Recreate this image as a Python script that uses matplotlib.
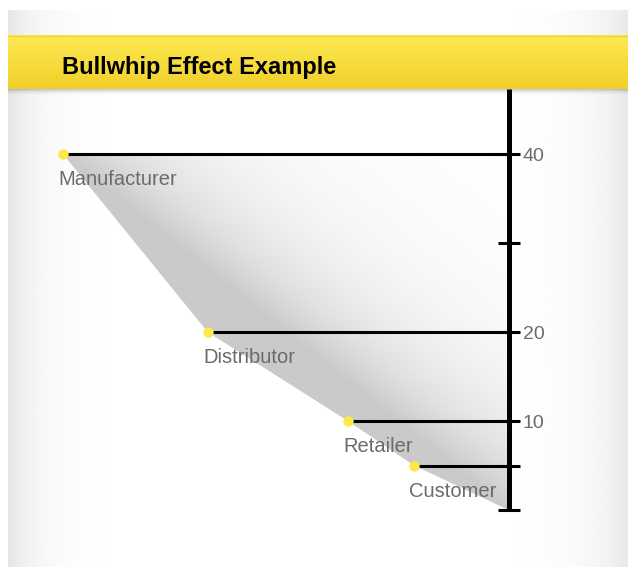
import numpy as np
import matplotlib.pyplot as plt
from matplotlib.patches import Polygon

plt.rcParams["font.family"] = ["Liberation Sans", "DejaVu Sans"]

# Data
stages = ["Manufacturer", "Distributor", "Retailer", "Customer"]
order_size = [40, 20, 10, 5]
stage_x = [8.6, 32.0, 54.7, 65.4]   # horizontal placement, % of width
axis_x = 80.7
yticks = [0, 5, 10, 20, 30, 40]
ytick_labels = ["", "", "10", "20", "", "40"]

W, H = 628, 567
fig = plt.figure(figsize=(W / 100, H / 100), dpi=100)
fig.patch.set_facecolor("white")

# background layer (pixel coordinates)
bg = fig.add_axes([0, 0, 1, 1], zorder=0)
bg.set_xlim(0, W)
bg.set_ylim(H, 0)
bg.axis("off")

xs = np.linspace(8, W, 600)
prof = 1 - 0.10 * np.exp(-(xs - 8) / 30) - 0.09 * np.exp(-(W - xs) / 35)
bg.imshow(np.tile(prof, (2, 1)), cmap="gray", vmin=0, vmax=1,
          extent=(8, W, H, 10), aspect="auto", interpolation="bilinear")

# yellow header band
top = np.array([253, 234, 82]) / 255
bot = np.array([240, 207, 42]) / 255
t = np.linspace(0, 1, 60)[:, None, None]
band = top * (1 - t) + bot * t
bg.imshow(band, extent=(8, W, 89, 35), aspect="auto", interpolation="bilinear")
bg.plot([8, W], [35.5, 35.5], color="#f2d43a", lw=1)

# soft shadow under the band
sh = np.zeros((20, 1, 4))
sh[..., 3] = (0.22 * np.linspace(1, 0, 20) ** 2)[:, None]
bg.imshow(sh, extent=(8, W, 96, 89), aspect="auto", interpolation="bilinear")

bg.text(62, 67.5, "Bullwhip Effect Example", fontsize=17, fontweight="bold",
        va="center", ha="left", color="black")

# main chart
ax = fig.add_axes([10 / W, (H - 545) / H, (W - 10) / W, (545 - 89) / H], zorder=1)
ax.patch.set_alpha(0)
ax.set_xlim(0, 100)
ax.set_ylim(-3.93, 47.33)
for s in ["top", "bottom", "left"]:
    ax.spines[s].set_visible(False)
ax.spines["right"].set_position(("data", axis_x))
ax.spines["right"].set_bounds(0, 47.33)
ax.spines["right"].set_linewidth(3.6)
ax.spines["right"].set_capstyle("butt")
ax.yaxis.tick_right()
ax.set_yticks(yticks, ytick_labels)
ax.set_xticks([])
ax.tick_params(axis="y", direction="inout", length=16, width=2.2,
               color="black", labelcolor="#6b6b6b", labelsize=14, pad=2)

# gradient wedge
verts = list(zip(stage_x, order_size)) + [(axis_x, 0), (axis_x, order_size[0])]
poly = Polygon(verts, closed=True, facecolor="none", edgecolor="none")
ax.add_patch(poly)

gx = np.linspace(stage_x[0], axis_x, 300)
gy = np.linspace(0, order_size[0], 300)
GX, GY = np.meshgrid(gx, gy)
pts = ax.transData.transform(np.column_stack([GX.ravel(), GY.ravel()]))
p0 = ax.transData.transform((stage_x[0], order_size[0]))
p1 = ax.transData.transform((axis_x, 0))
d = p1 - p0
n = np.array([-d[1], d[0]]) / np.hypot(*d)
dist = np.clip((pts - p0) @ n, 0, None).reshape(GX.shape)
shade = 1 - 0.21 * np.exp(-dist / 70)
im = ax.imshow(shade, cmap="gray", vmin=0, vmax=1, origin="lower",
               extent=(gx[0], gx[-1], gy[0], gy[-1]), aspect="auto",
               interpolation="bilinear", zorder=1)
im.set_clip_path(poly)

for name, x, v in zip(stages, stage_x, order_size):
    ax.plot([x, axis_x], [v, v], color="black", lw=2.2, solid_capstyle="butt", zorder=3)
    ax.plot(x, v, "o", color="#fce94a", ms=7.5, mec="none", zorder=5)
    ax.annotate(name, (x, v), xytext=(-3.4, -11.5), textcoords="offset points",
                ha="left", va="top", fontsize=14.5, color="#6b6b6b", zorder=6)

fig.savefig("out.png", dpi=100)
